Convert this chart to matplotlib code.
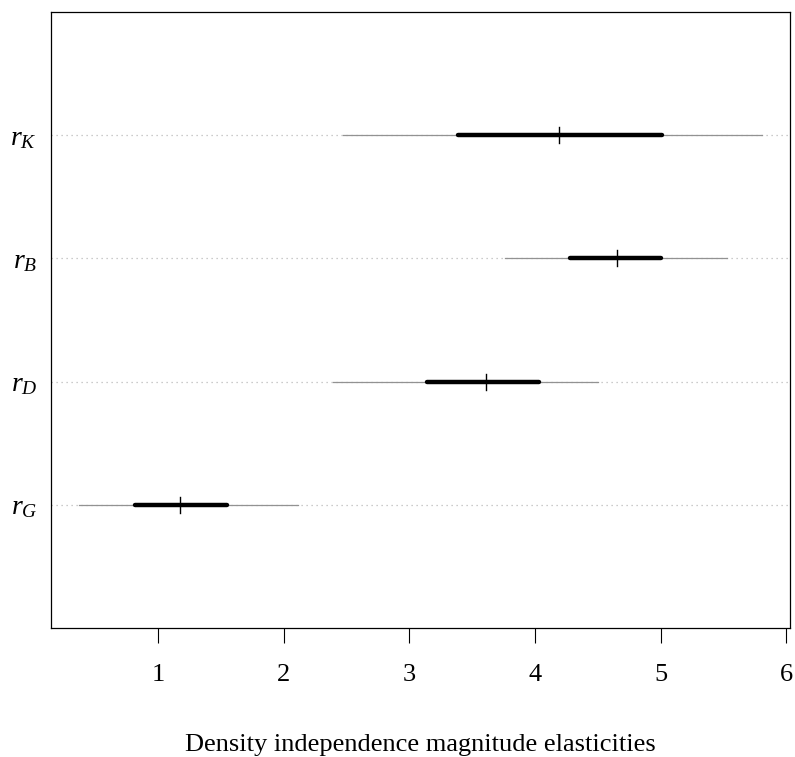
import matplotlib
matplotlib.use("Agg")
import matplotlib.pyplot as plt

# ---------------------------------------------------------------- data
labels = [r"$r_G$", r"$r_D$", r"$r_B$", r"$r_K$"]
lo95 = [0.37, 2.39, 3.76, 2.47]
lo50 = [0.82, 3.14, 4.28, 3.39]
median = [1.175, 3.61, 4.65, 4.19]
hi50 = [1.55, 4.03, 5.00, 5.01]
hi95 = [2.115, 4.50, 5.53, 5.81]
xticks = [1, 2, 3, 4, 5, 6]

plt.rcParams["font.family"] = "Liberation Serif"
plt.rcParams["mathtext.fontset"] = "custom"
plt.rcParams["mathtext.it"] = "Liberation Serif:italic"
plt.rcParams["mathtext.rm"] = "Liberation Serif"

W, H = 795, 757
L, R, T, B = 51, 790, 12, 628
fig = plt.figure(figsize=(W / 100, H / 100), dpi=100)
ax = fig.add_axes([L / W, 1 - B / H, (R - L) / W, (B - T) / H])

ys = list(range(1, len(labels) + 1))
for y in ys:
    ax.axhline(y, color="#bbbbbb", lw=0.9, ls=(0, (1, 3)), zorder=1)
for y, a, b, c, d, m in zip(ys, lo95, lo50, hi50, hi95, median):
    ax.plot([a, d], [y, y], color="#929292", lw=0.9, zorder=2)
    ax.plot([b, c], [y, y], color="black", lw=3.2, solid_capstyle="round",
            zorder=3)
    ax.plot([m, m], [y - 0.065, y + 0.065], color="black", lw=1.0, zorder=4)

ax.set_xlim(0.15, 6.03)
ax.set_ylim(0, 5)
ax.set_xticks(xticks)
ax.set_xticklabels([str(t) for t in xticks])
ax.set_yticks(ys)
ax.set_yticklabels(labels)
ax.tick_params(axis="x", length=11, width=0.8, labelsize=19, pad=15)
ax.tick_params(axis="y", length=0, labelsize=20, pad=10)
for s in ax.spines.values():
    s.set_linewidth(0.9)

# x label placed like R's xlab on line 3
fig.text((L + R) / 2 / W, 1 - 751 / H,
         "Density independence magnitude elasticities", fontsize=19,
         ha="center", va="baseline")

fig.savefig("out.png", dpi=100)
